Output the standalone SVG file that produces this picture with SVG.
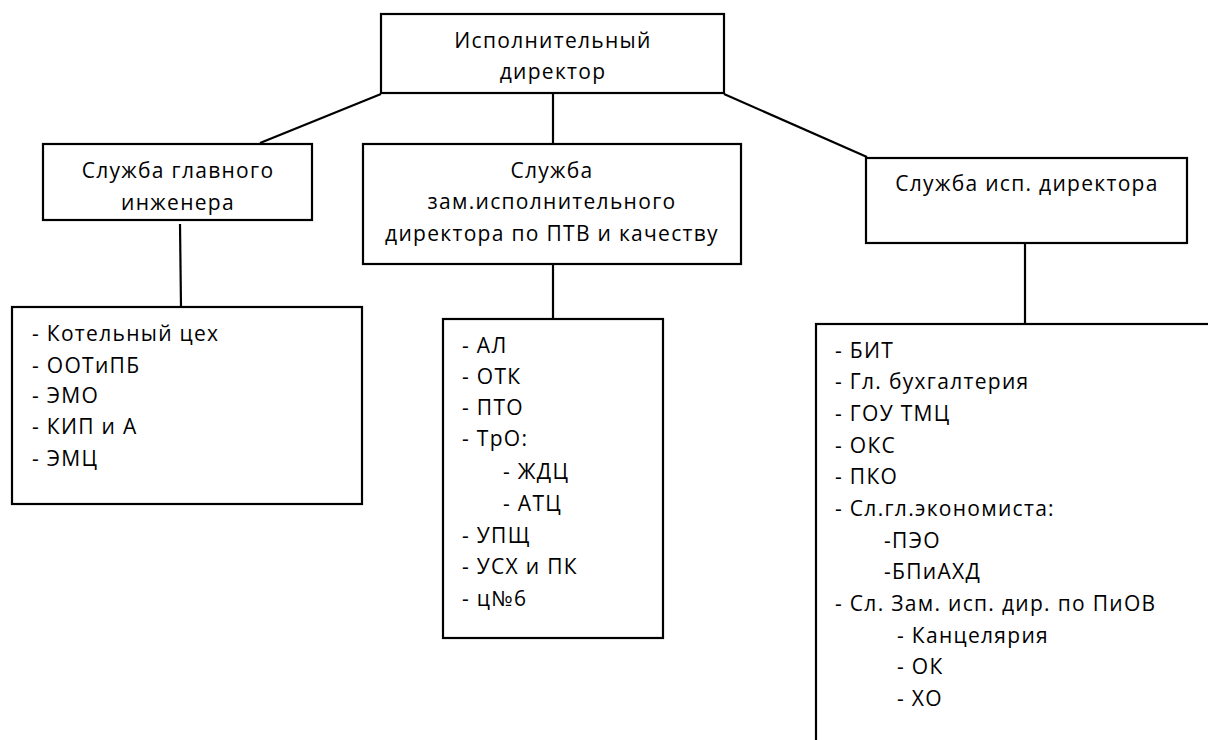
<svg xmlns="http://www.w3.org/2000/svg" width="1208" height="740" viewBox="0 0 1208 740">
<style>
.box{fill:#fff;stroke:#000;stroke-width:2.2}
.c{stroke:#000;stroke-width:2.2;fill:none}
text{font-family:"Open Sans","DejaVu Sans",sans-serif;font-size:21px;fill:#000;letter-spacing:1.3px}
.m{text-anchor:middle}
</style>
<rect width="1208" height="740" fill="#fff"/>
<g id="connectors">
<line class="c" x1="381" y1="94" x2="260" y2="143"/>
<line class="c" x1="553" y1="93" x2="553" y2="144"/>
<line class="c" x1="724" y1="94" x2="867" y2="157"/>
<line class="c" x1="180" y1="224" x2="181" y2="307"/>
<line class="c" x1="553" y1="264" x2="553" y2="319"/>
<line class="c" x1="1025" y1="243" x2="1025" y2="324"/>
</g>
<g id="director">
<rect class="box" x="381" y="14" width="343" height="79"/>
<text class="m" x="553" y="48">Исполнительный</text>
<text class="m" x="553" y="79">директор</text>
</g>
<g id="chief-engineer">
<rect class="box" x="43" y="144" width="269" height="76"/>
<text class="m" x="178" y="178">Служба главного</text>
<text class="m" x="178" y="210">инженера</text>
</g>
<g id="deputy-ptv">
<rect class="box" x="363" y="144" width="378" height="120"/>
<text class="m" x="552" y="178">Служба</text>
<text class="m" x="552" y="209">зам.исполнительного</text>
<text class="m" x="552" y="241">директора по ПТВ и качеству</text>
</g>
<g id="exec-service">
<rect class="box" x="866" y="158" width="321" height="85"/>
<text class="m" x="1027" y="191">Служба исп. директора</text>
</g>
<g id="list-engineer">
<rect class="box" x="12" y="307" width="350" height="197"/>
<text x="32" y="341">- Котельный цех</text>
<text x="32" y="373">- ООТиПБ</text>
<text x="32" y="403">- ЭМО</text>
<text x="32" y="434">- КИП и А</text>
<text x="32" y="466">- ЭМЦ</text>
</g>
<g id="list-ptv">
<rect class="box" x="443" y="319" width="220" height="319"/>
<text x="462" y="353">- АЛ</text>
<text x="462" y="384">- ОТК</text>
<text x="462" y="415">- ПТО</text>
<text x="462" y="446">- ТрО:</text>
<text x="503" y="479">- ЖДЦ</text>
<text x="503" y="511">- АТЦ</text>
<text x="462" y="543">- УПЩ</text>
<text x="462" y="574">- УСХ и ПК</text>
<text x="462" y="606">- ц№6</text>
</g>
<g id="list-exec">
<rect class="box" x="816" y="324" width="420" height="440"/>
<text x="835" y="358">- БИТ</text>
<text x="835" y="389">- Гл. бухгалтерия</text>
<text x="835" y="421">- ГОУ ТМЦ</text>
<text x="835" y="453">- ОКС</text>
<text x="835" y="484">- ПКО</text>
<text x="835" y="516">- Сл.гл.экономиста:</text>
<text x="884" y="548">-ПЭО</text>
<text x="884" y="579">-БПиАХД</text>
<text x="835" y="611">- Сл. Зам. исп. дир. по ПиОВ</text>
<text x="897" y="643">- Канцелярия</text>
<text x="897" y="674">- ОК</text>
<text x="897" y="706">- ХО</text>
</g>
</svg>
